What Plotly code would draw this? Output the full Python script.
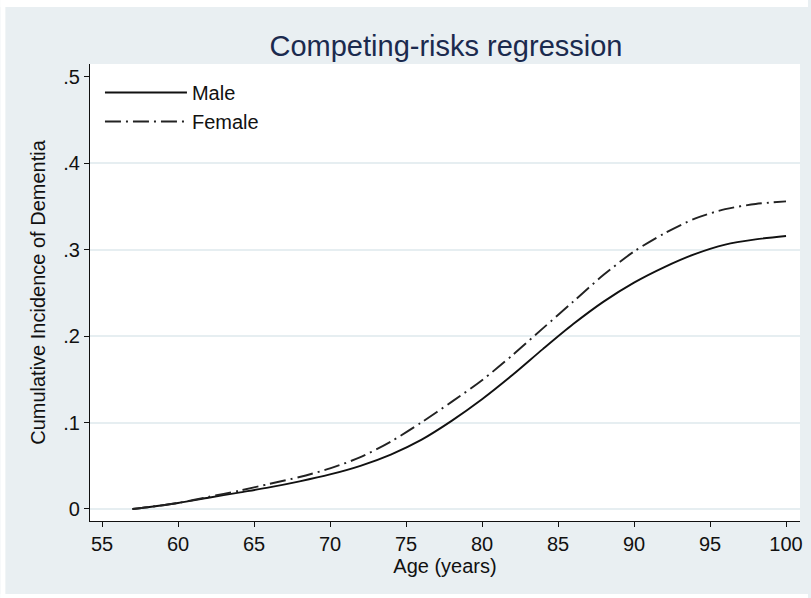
import plotly.graph_objects as go

# ---- data ----
age_male = [57, 58, 60, 62, 64, 66, 68, 70, 72, 74, 76, 78, 80, 82, 84, 86, 88, 90, 92, 94, 96, 98, 100]
cif_male = [0.000, 0.002, 0.007, 0.013, 0.019, 0.025, 0.032, 0.040, 0.050, 0.063, 0.080, 0.102, 0.127,
            0.155, 0.185, 0.214, 0.240, 0.262, 0.280, 0.295, 0.306, 0.312, 0.316]

age_female = [57, 58, 60, 62, 64, 66, 68, 70, 72, 74, 76, 78, 80, 82, 84, 86, 88, 90, 92, 94, 96, 98, 100]
cif_female = [0.000, 0.002, 0.007, 0.014, 0.021, 0.029, 0.037, 0.047, 0.060, 0.078, 0.100, 0.124, 0.149, 0.178,
              0.209, 0.240, 0.271, 0.298, 0.319, 0.336, 0.347, 0.353, 0.356]

x_ticks = [55, 60, 65, 70, 75, 80, 85, 90, 95, 100]
y_ticks = [0, 0.1, 0.2, 0.3, 0.4, 0.5]
y_ticktext = ["0", ".1", ".2", ".3", ".4", ".5"]
grid_vals = [0, 0.1, 0.2, 0.3, 0.4]

BG = "#e9eff2"
GRID = "#e6eef1"
FONT = "Arial, Liberation Sans, sans-serif"

fig = go.Figure()
fig.add_trace(go.Scatter(x=age_male, y=cif_male, mode="lines", name="Male",
                         line=dict(color="#111111", width=1.9, shape="spline", smoothing=0.8)))
fig.add_trace(go.Scatter(x=age_female, y=cif_female, mode="lines", name="Female",
                         line=dict(color="#222222", width=1.9, dash="16px,5px,2px,5px",
                                   shape="spline", smoothing=0.8)))

W, H = 811, 598
L, R, T, B = 90, 8, 64, 77
pw, ph = W - L - R, H - T - B

def px_x(p):
    return (p - L) / pw

def px_y(p):
    return (H - B - p) / ph

# thin white border of the original image
for x0, x1, y0, y1 in [(0, 5, 0, H), (0, W, 0, 7), (0, W, 594, H)]:
    fig.add_shape(type="rect", xref="paper", yref="paper", layer="above",
                  x0=px_x(x0), x1=px_x(x1), y0=px_y(y1), y1=px_y(y0),
                  fillcolor="white", line=dict(width=0))

fig.update_layout(
    width=W, height=H,
    margin=dict(l=L, r=R, t=T, b=B, pad=0),
    paper_bgcolor=BG, plot_bgcolor="white",
    font=dict(family=FONT, size=20, color="#111111"),
    title=dict(text="Competing-risks regression", x=446 / W, xanchor="center",
               y=1 - 46 / H, yanchor="middle",
               font=dict(family=FONT, size=29, color="#1b2a4e")),
    showlegend=True,
    legend=dict(x=px_x(100), y=px_y(73), xanchor="left", yanchor="top", bgcolor="rgba(0,0,0,0)",
                borderwidth=0, font=dict(size=20), itemwidth=82, tracegroupgap=0),
    xaxis=dict(range=[54.21, 100.92], tickvals=x_ticks, ticks="outside", ticklen=5,
               tickcolor="#111111", showline=True, linecolor="#111111", linewidth=1.2,
               showgrid=False, zeroline=False, tickfont=dict(size=20),
               title=dict(text="Age (years)", font=dict(size=20), standoff=0)),
    yaxis=dict(range=[-0.0139, 0.515], tickvals=y_ticks, ticktext=y_ticktext,
               ticks="outside", ticklen=5, tickcolor="#111111", showline=True,
               linecolor="#111111", linewidth=1.2, showgrid=False, zeroline=False,
               tickfont=dict(size=20),
               title=dict(text="Cumulative Incidence of Dementia", font=dict(size=20), standoff=12)),
    yaxis2=dict(range=[-0.0139, 0.515], overlaying="y", tickvals=grid_vals, showgrid=True,
                gridcolor=GRID, gridwidth=1.5, showticklabels=False, ticks="", zeroline=False,
                showline=False, layer="below traces"),
)

# invisible trace to activate the grid axis
fig.add_trace(go.Scatter(x=[age_male[0]], y=[cif_male[0]], yaxis="y2", mode="markers",
                         marker=dict(opacity=0), showlegend=False, hoverinfo="skip"))

fig.write_html("out.html")
